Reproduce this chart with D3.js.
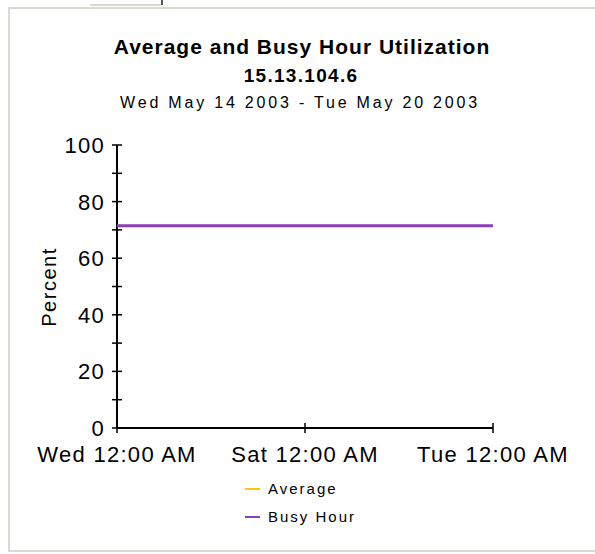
<!DOCTYPE html>
<html>
<head>
<meta charset="utf-8">
<script src="https://cdn.jsdelivr.net/npm/d3@7"></script>
<style>
  body { margin: 0; background: #fff; }
  text { font-family: "Liberation Sans", Arial, sans-serif; fill: #000; }
</style>
</head>
<body>
<div id="chart"></div>
<script>
// chart data
var days = ["2003-05-14", "2003-05-15", "2003-05-16", "2003-05-17", "2003-05-18", "2003-05-19", "2003-05-20"];
var busyHour = [71.5, 71.5, 71.5, 71.5, 71.5, 71.5, 71.5];
var average = [];
var xTicks = ["2003-05-14", "2003-05-17", "2003-05-20"];
var yTicks = [0, 20, 40, 60, 80, 100];
var seriesNames = ["Average", "Busy Hour"];
var seriesColors = ["#ffc20e", "#8a3fb8"];

var W = 595, H = 554;
var parseDay = d3.timeParse("%Y-%m-%d");
var formatTick = d3.timeFormat("%a %I:%M %p");

var svg = d3.select("#chart").append("svg")
    .attr("width", W)
    .attr("height", H);

// outer frame + bits of the window above it
svg.append("path")
    .attr("d", "M595,8 H9 V551 H595")
    .attr("fill", "none")
    .attr("stroke", "#dcd9d2")
    .attr("stroke-width", 2);
svg.append("line").attr("x1", 90).attr("x2", 161).attr("y1", 5).attr("y2", 5)
    .attr("stroke", "#dcd9d2").attr("stroke-width", 2);
svg.append("line").attr("x1", 162).attr("x2", 162).attr("y1", 0).attr("y2", 5)
    .attr("stroke", "#555").attr("stroke-width", 2);

// titles
svg.append("text").attr("x", 302).attr("y", 54)
    .attr("text-anchor", "middle").style("font-weight", "bold").style("font-size", "21px")
    .style("letter-spacing", "1px")
    .text("Average and Busy Hour Utilization");
svg.append("text").attr("x", 301).attr("y", 82)
    .attr("text-anchor", "middle").style("font-weight", "bold").style("font-size", "19px")
    .style("letter-spacing", "1.3px")
    .text("15.13.104.6");
svg.append("text").attr("x", 300).attr("y", 108)
    .attr("text-anchor", "middle").style("font-size", "16px")
    .style("letter-spacing", "2.8px")
    .text("Wed May 14 2003 - Tue May 20 2003");

// scales
var x = d3.scaleTime()
    .domain([parseDay(days[0]), parseDay(days[days.length - 1])])
    .range([117, 493]);
var y = d3.scaleLinear().domain([0, 100]).range([428, 145]);

// y axis
var yAxis = svg.append("g").attr("transform", "translate(117,0)");
yAxis.append("line").attr("y1", y(0)).attr("y2", y(100)).attr("stroke", "#000").attr("stroke-width", 2);
yAxis.selectAll(".minor").data(d3.range(0, 101, 10)).enter().append("line")
    .attr("x1", -5).attr("x2", 5)
    .attr("y1", function(d) { return y(d); }).attr("y2", function(d) { return y(d); })
    .attr("stroke", "#000").attr("stroke-width", 1.5);
yAxis.selectAll(".lbl").data(yTicks).enter().append("text")
    .attr("x", -12).attr("y", function(d) { return y(d); })
    .attr("dy", "0.36em").attr("text-anchor", "end").style("font-size", "22px")
    .style("letter-spacing", "1.3px")
    .text(function(d) { return d; });

// x axis
var xAxis = svg.append("g").attr("transform", "translate(0," + y(0) + ")");
xAxis.append("line").attr("x1", x.range()[0]).attr("x2", x.range()[1]).attr("stroke", "#000").attr("stroke-width", 2);
xAxis.selectAll(".tk").data(xTicks).enter().append("line")
    .attr("x1", function(d) { return x(parseDay(d)); }).attr("x2", function(d) { return x(parseDay(d)); })
    .attr("y1", -5).attr("y2", 5)
    .attr("stroke", "#000").attr("stroke-width", 1.5);
xAxis.selectAll(".lbl").data(xTicks).enter().append("text")
    .attr("x", function(d) { return x(parseDay(d)); }).attr("y", 34)
    .attr("text-anchor", "middle").style("font-size", "22px")
    .style("letter-spacing", "1.3px")
    .text(function(d) { return formatTick(parseDay(d)); });

// y axis title
svg.append("text")
    .attr("transform", "translate(56,287) rotate(-90)")
    .attr("text-anchor", "middle").style("font-size", "20px")
    .style("letter-spacing", "1.5px")
    .text("Percent");

// lines
var line = d3.line()
    .x(function(d, i) { return x(parseDay(days[i])); })
    .y(function(d) { return y(d); });

[average, busyHour].forEach(function(vals, i) {
    if (!vals.length) return;
    svg.append("path")
        .attr("fill", "none")
        .attr("stroke", seriesColors[i])
        .attr("stroke-width", 3)
        .attr("d", line(vals));
});

// legend
var legend = svg.selectAll(".legend").data(seriesNames).enter().append("g")
    .attr("transform", function(d, i) { return "translate(245," + (489 + i * 28) + ")"; });
legend.append("line").attr("x1", 0).attr("x2", 15)
    .attr("stroke", function(d, i) { return seriesColors[i]; }).attr("stroke-width", 2);
legend.append("text").attr("x", 23).attr("dy", "0.35em").style("font-size", "15px")
    .style("letter-spacing", "2px")
    .text(function(d) { return d; });
</script>
</body>
</html>
